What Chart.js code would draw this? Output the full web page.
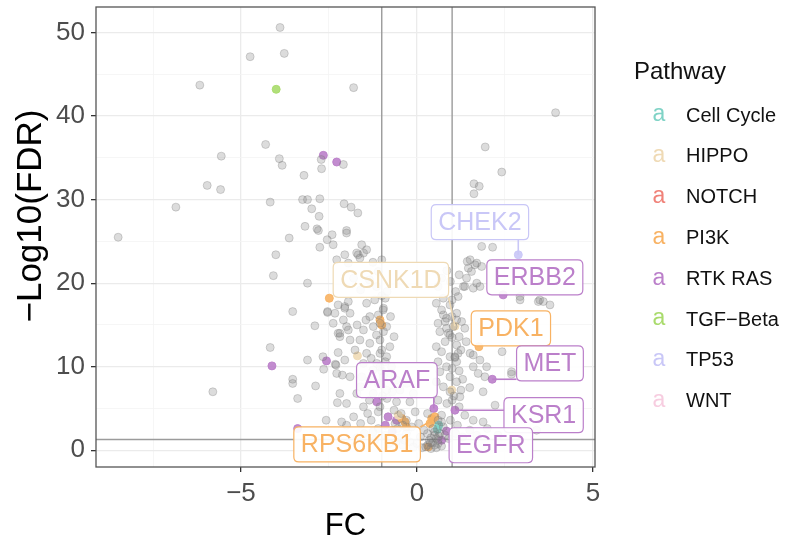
<!DOCTYPE html>
<html>
<head>
<meta charset="utf-8">
<script src="https://cdn.jsdelivr.net/npm/chart.js@4.4.1/dist/chart.umd.min.js"></script>
<style>
  body { margin: 0; background: #fff; }
  #wrap { width: 787px; height: 548px; position: relative; }
</style>
</head>
<body>
<div id="wrap"><canvas id="volcano"></canvas></div>
<script>
// axes
const xTicks = [-7.5, -5, -2.5, 0, 2.5, 5];
const yTicks = [0, 5, 10, 15, 20, 25, 30, 35, 40, 45, 50];
const xLimits = [-9.12, 5.06];
const yLimits = [-2.0, 53.05];
const fdrCutoff = 1.3;
const fcCutoffs = [-1, 1];

// genes without pathway (grey)
const greyPoints = [
  [-3.89,50.6],[-4.74,47.1],[-3.77,47.5],[-6.17,43.7],[-1.80,43.4],[3.94,40.4],
  [-4.30,36.6],[-5.56,35.2],[-3.91,34.9],[-3.83,34.1],[-2.72,34.8],[-2.71,33.7],[-2.09,34.2],
  [-3.21,32.9],[-5.96,31.7],[-5.58,31.2],[-6.85,29.1],[-4.17,29.7],[-3.25,30.0],[-3.11,30.0],
  [-2.76,30.1],[-2.99,28.9],[-2.78,28.0],[-3.18,26.8],[-2.84,26.5],[-2.80,26.3],
  [-2.07,29.5],[-1.87,29.1],[-1.68,28.4],[-2.0,26.3],[-2.0,26.0],
  [1.94,36.3],[2.41,33.3],[1.62,31.9],[1.77,31.6],[1.62,30.7],
  [-8.49,25.5],[-3.63,25.4],[-2.41,25.8],[-2.55,25.2],[-2.38,24.6],[-2.76,24.3],
  [-4.01,23.4],[-2.05,23.4],[-4.08,20.9],[-3.11,20.0],
  [-2.54,16.6],[-2.54,16.5],[-3.53,16.6],[-2.90,14.9],[-2.24,14.0],[-4.17,12.3],[-3.11,10.8],
  [-2.67,11.2],[-2.65,9.7],[-2.32,10.3],[-3.53,8.5],[-3.53,8.0],[-2.88,7.7],[-5.80,7.0],
  [-3.39,6.2],[-2.26,5.7],[-2.58,3.6],
  [-2.05,17.2],[-1.95,17.8],[-2.0,14.8],[-2.19,14.0],[-1.95,14.4],[-2.30,10.2],[-2.24,11.7],
  [-2.05,10.8],[-2.12,9.0],[-2.14,3.4],[-2.0,3.0],
  [-1.57,24.6],[-1.43,24.0],[-1.52,23.6],[-1.67,23.4],[-1.62,23.0],[-1.71,23.6],[-2.28,22.8],[-1.95,22.4],
  [-1.25,22.5],[-1.0,22.8],[-1.1,21.4],[-1.0,18.5],[-0.95,17.0],
  [-2.24,17.4],[-2.05,17.0],[-1.90,16.4],[-2.33,16.4],[-2.09,15.6],[-2.38,15.2],
  [-1.43,17.6],[-1.34,16.0],[-0.96,16.8],[-1.05,15.2],[-1.24,14.8],[-1.52,14.4],[-0.86,14.8],
  [-2.19,13.6],[-1.90,13.2],[-1.62,13.2],[-1.34,12.8],[-1.05,13.2],[-0.77,12.4],[-1.76,12.0],
  [-1.43,11.6],[-1.05,11.6],[-0.86,11.2],[-1.52,10.4],[-1.14,10.4],[-0.72,10.0],[-1.0,12.0],[-1.0,9.5],
  [-2.28,9.2],[-1.90,8.8],[-1.57,8.8],[-1.34,8.4],[-0.96,8.8],[-0.58,8.4],[-0.29,8.0],
  [-2.19,6.8],[-1.71,6.8],[-1.24,6.8],[-0.86,7.2],[-0.48,7.2],[-0.10,6.8],[-1.02,7.8],[-0.98,6.5],
  [-2.0,5.6],[-1.52,5.2],[-1.05,5.2],[-0.58,5.8],[-0.20,5.8],
  [-1.15,19.6],[-1.35,20.4],[-0.85,19.0],[-1.6,19.2],[-1.8,20.6],[-1.2,18.0],[-0.9,18.2],
  [-1.1,16.2],[-0.75,16.0],[-1.45,15.6],[-1.7,15.0],[-0.95,14.2],[-1.15,13.8],[-0.65,13.6],
  [-1.3,11.0],[-0.9,10.6],[-1.05,10.0],[-1.25,9.6],[-0.75,9.2],[-1.1,8.0],[-0.85,6.2],
  [-1.35,6.0],[-1.6,7.6],[-0.7,7.0],[-1.1,4.6],[-1.4,4.4],[-0.65,4.8],[-0.4,3.0],[-1.25,2.2],[-0.55,2.6],
  [-1.8,4.0],[-1.6,3.2],[-1.3,3.6],[-1.1,2.6],[-0.9,1.8],[-0.7,2.4],[-0.5,1.5],[-0.3,2.0],
  [-0.2,1.0],[0.0,0.8],[0.1,1.6],[0.2,2.4],[0.3,0.6],[0.35,1.2],[0.45,0.9],[0.5,1.8],[0.6,1.2],
  [0.7,0.5],[0.55,0.3],[0.4,0.2],[0.25,0.4],[-0.1,0.4],[-0.4,0.6],[-0.6,1.0],[-0.8,0.8],
  [-1.2,1.2],[-1.5,2.0],[-1.7,1.5],[0.65,2.0],[0.75,2.8],[0.9,1.4],[1.1,2.0],[1.3,1.6],
  [1.5,2.4],[1.7,1.8],[2.0,2.6],[2.3,1.8],[0.4,1.5],[0.5,2.2],[0.6,0.8],
  [-0.45,4.4],[-0.3,3.6],[-0.15,2.8],[0.05,3.2],[0.3,2.0],[0.45,2.6],[0.55,1.4],[0.38,0.9],
  [-0.62,3.2],[-0.35,1.2],[0.15,0.3],[0.5,0.6],[0.62,1.7],[0.7,3.4],[0.3,4.4],[-0.05,4.6],
  [1.84,24.4],[2.15,24.3],[1.51,22.8],[1.46,21.8],[1.65,22.2],[1.43,22.6],[1.70,22.4],[1.55,21.4],
  [1.84,22.0],[1.41,20.6],[1.60,19.4],[1.32,19.6],[1.36,19.6],[1.17,18.4],[1.70,20.0],[1.79,19.6],
  [0.85,21.5],[1.2,21.0],[0.95,20.2],[1.1,19.0],
  [2.93,18.4],[3.49,18.0],[2.93,18.0],[3.45,17.8],[3.59,17.8],[3.78,17.4],
  [0.75,16.2],[0.99,16.0],[1.13,15.6],[0.80,15.4],[0.84,14.6],[0.89,14.0],[1.27,15.4],[1.36,14.6],
  [0.75,18.2],[0.94,17.4],[0.70,16.8],[1.13,16.4],[0.84,15.8],[1.03,14.8],[0.65,14.2],[0.94,13.8],
  [0.80,13.0],[1.13,12.6],[0.70,11.8],[0.94,11.2],[1.13,10.6],[0.84,10.0],[0.65,9.4],[0.94,8.8],
  [1.13,8.2],[0.75,7.6],[0.94,7.0],[1.22,6.4],
  [0.6,19.6],[0.7,20.6],[0.55,17.6],[1.0,18.0],[0.6,15.2],[1.2,13.6],[0.55,12.4],[1.25,12.0],
  [0.6,10.6],[1.0,9.8],[0.55,8.2],[1.25,7.2],[0.6,6.0],[0.85,5.6],[1.2,5.2],[0.7,4.2],
  [0.95,3.6],[1.15,3.0],[0.6,3.6],[0.8,1.8],
  [1.17,11.6],[1.08,11.2],[1.08,11.1],[1.51,11.6],[1.60,10.0],[1.79,10.8],[1.98,10.0],[1.74,9.2],
  [1.93,8.8],[2.42,11.8],[2.69,9.4],[2.69,9.1],[1.88,7.0],[2.22,5.4],[1.60,11.4],
  [1.36,4.2],[1.60,3.6],[1.88,3.4],[3.40,2.4],[1.05,6.5],[1.0,6.0],[1.5,7.5],[1.3,8.5],
  [1.2,9.5],[1.4,13.0],[1.0,13.5]
];

// genes by pathway
const cellCycle = [[0.58,2.5],[0.62,3.0]];
const hippo = [[1.08,14.85],[-1.69,11.3],[-0.53,4.2],[0.99,7.2]];
const notch = [];
const pi3k = [[-2.49,18.2],[-1.05,15.6],[-1.0,15.0],[-0.43,3.8],[-0.34,3.4],[-0.3,2.8],
  [0.32,0.4],[0.42,3.8],[0.51,4.0],[0.37,3.2],[1.76,12.4],[0.45,3.6]];
const rtkRas = [[-2.66,35.3],[-2.28,34.5],[-4.12,10.1],[-2.57,10.7],[-3.39,2.6],[-1.14,5.8],
  [-0.82,4.0],[-0.58,3.6],[-0.9,3.0],[-0.7,2.2],[2.45,18.6],[2.14,8.5],[0.48,5.0],[1.08,4.8],
  [0.84,2.3],[0.7,1.2]];
const tgfBeta = [[-4.0,43.2]];
const tp53 = [[2.88,23.4]];
const wnt = [];

const pathwayNames = ['Cell Cycle', 'HIPPO', 'NOTCH', 'PI3K', 'RTK RAS', 'TGF\u2212Beta', 'TP53', 'WNT'];
const pathwayPoints = [cellCycle, hippo, notch, pi3k, rtkRas, tgfBeta, tp53, wnt];
const pathwayColors = ['#7fd3c6', '#efdab5', '#f08279', '#f8b263', '#bb7fca', '#a9db6c', '#c9c7f7', '#f7cde0'];

// labelled genes
const labelGenes = ['CHEK2', 'CSNK1D', 'ERBB2', 'PDK1', 'MET', 'ARAF', 'KSR1', 'RPS6KB1', 'EGFR'];
const labelPathway = [6, 1, 4, 3, 4, 4, 4, 3, 4];
const labelFC = [2.88, 1.08, 2.45, 1.76, 2.14, 0.48, 1.08, 0.45, 0.84];
const labelFDR = [23.4, 14.85, 18.6, 12.4, 8.5, 5.0, 4.8, 3.6, 2.3];
const labelBoxFC = [1.79, -0.74, 3.35, 2.67, 3.78, -0.57, 3.6, -1.70, 2.1];
const labelBoxFDR = [27.3, 20.4, 20.7, 14.6, 10.4, 8.4, 4.2, 0.7, 0.6];

const FONT = '"Liberation Sans", Arial, Helvetica, sans-serif';

function toXY(arr) {
    return arr.map(p => ({ x: p[0], y: p[1] }));
}

function hexA(hex, a) {
    const n = parseInt(hex.slice(1), 16);
    return `rgba(${(n >> 16) & 255}, ${(n >> 8) & 255}, ${n & 255}, ${a})`;
}

function roundRect(ctx, x, y, w, h, r) {
    ctx.beginPath();
    ctx.moveTo(x + r, y);
    ctx.lineTo(x + w - r, y);
    ctx.quadraticCurveTo(x + w, y, x + w, y + r);
    ctx.lineTo(x + w, y + h - r);
    ctx.quadraticCurveTo(x + w, y + h, x + w - r, y + h);
    ctx.lineTo(x + r, y + h);
    ctx.quadraticCurveTo(x, y + h, x, y + h - r);
    ctx.lineTo(x, y + r);
    ctx.quadraticCurveTo(x, y, x + r, y);
    ctx.closePath();
}

// cutoff lines under the points
const cutoffLines = {
    id: 'cutoffLines',
    beforeDatasetsDraw(chart) {
        const { ctx, chartArea: a, scales: { x, y } } = chart;
        ctx.save();
        ctx.strokeStyle = '#9b9b9b';
        ctx.lineWidth = 1.4;
        ctx.beginPath();
        fcCutoffs.forEach(v => {
            const px = x.getPixelForValue(v);
            ctx.moveTo(px, a.top);
            ctx.lineTo(px, a.bottom);
        });
        const py = y.getPixelForValue(fdrCutoff);
        ctx.moveTo(a.left, py);
        ctx.lineTo(a.right, py);
        ctx.stroke();
        ctx.restore();
    }
};

// gene labels, panel border, y title and legend
const decorations = {
    id: 'decorations',
    afterDatasetsDraw(chart) {
        const { ctx, chartArea: a, scales: { x, y } } = chart;
        ctx.save();
        ctx.beginPath();
        ctx.rect(a.left, a.top, a.right - a.left, a.bottom - a.top);
        ctx.clip();
        ctx.font = `25px ${FONT}`;
        ctx.textAlign = 'center';
        ctx.textBaseline = 'middle';
        labelGenes.forEach((gene, i) => {
            const col = pathwayColors[labelPathway[i]];
            const px = x.getPixelForValue(labelFC[i]);
            const py = y.getPixelForValue(labelFDR[i]);
            const cx = x.getPixelForValue(labelBoxFC[i]);
            const cy = y.getPixelForValue(labelBoxFDR[i]);
            const w = ctx.measureText(gene).width + 14;
            const h = 35;
            const left = cx - w / 2, top = cy - h / 2;
            const ex = Math.max(left, Math.min(px, left + w));
            const ey = Math.max(top, Math.min(py, top + h));
            if (Math.hypot(px - ex, py - ey) > 7) {
                ctx.strokeStyle = col;
                ctx.lineWidth = 1.6;
                ctx.beginPath();
                ctx.moveTo(px, py);
                ctx.lineTo(ex, ey);
                ctx.stroke();
            }
            roundRect(ctx, left, top, w, h, 5);
            ctx.fillStyle = 'rgba(255,255,255,0.92)';
            ctx.fill();
            ctx.strokeStyle = col;
            ctx.lineWidth = 1.2;
            ctx.stroke();
            ctx.fillStyle = col;
            ctx.fillText(gene, cx, cy + 1);
        });
        ctx.restore();

        // panel border
        ctx.save();
        ctx.strokeStyle = '#555555';
        ctx.lineWidth = 1.3;
        ctx.strokeRect(a.left, a.top, a.right - a.left, a.bottom - a.top);

        // y axis title
        ctx.save();
        ctx.translate(31, 216);
        ctx.rotate(-Math.PI / 2);
        ctx.textAlign = 'center';
        ctx.textBaseline = 'middle';
        ctx.fillStyle = '#000';
        ctx.font = `35px ${FONT}`;
        ctx.fillText('\u2212Log10(FDR)', 0, 0);
        ctx.restore();

        // legend
        ctx.textBaseline = 'middle';
        ctx.textAlign = 'left';
        ctx.fillStyle = '#111';
        ctx.font = `24px ${FONT}`;
        ctx.fillText('Pathway', 634, 72);
        pathwayNames.forEach((name, i) => {
            const ly = 116 + i * 40.8;
            ctx.textAlign = 'center';
            ctx.fillStyle = pathwayColors[i];
            ctx.font = `23px ${FONT}`;
            ctx.fillText('a', 659, ly - 1);
            ctx.textAlign = 'left';
            ctx.fillStyle = '#111';
            ctx.font = `20px ${FONT}`;
            ctx.fillText(name, 686, ly);
        });
        ctx.restore();
    }
};

const datasets = [{
    data: toXY(greyPoints),
    backgroundColor: 'rgba(128,128,128,0.28)',
    borderColor: 'rgba(110,110,110,0.28)',
    borderWidth: 1,
    pointRadius: 4
}];
pathwayPoints.forEach((pts, i) => {
    datasets.push({
        data: toXY(pts),
        backgroundColor: hexA(pathwayColors[i], 0.9),
        borderColor: hexA(pathwayColors[i], 0.9),
        borderWidth: 1,
        pointRadius: 4
    });
});

function isMajor(v, step) {
    return Math.abs(v / step - Math.round(v / step)) < 1e-6;
}

function fmt(v) {
    return v < 0 ? '\u2212' + Math.abs(v) : String(v);
}

new Chart(document.getElementById('volcano'), {
    type: 'scatter',
    data: { datasets: datasets },
    options: {
        responsive: true,
        maintainAspectRatio: false,
        animation: false,
        events: [],
        layout: { padding: { top: 7, right: 192, left: 0, bottom: 0 } },
        plugins: { legend: { display: false }, tooltip: { enabled: false } },
        scales: {
            x: {
                type: 'linear',
                min: xLimits[0],
                max: xLimits[1],
                afterBuildTicks: axis => { axis.ticks = xTicks.map(v => ({ value: v })); },
                afterFit: axis => {
                    axis.height = 81;
                    axis.paddingLeft = 0;
                    axis.paddingRight = 0;
                },
                border: { display: false },
                grid: {
                    color: c => isMajor(c.tick.value, 5) ? '#ebebeb' : '#f4f4f4',
                    lineWidth: c => isMajor(c.tick.value, 5) ? 1.3 : 0.8,
                    tickColor: c => isMajor(c.tick.value, 5) ? '#333' : 'rgba(0,0,0,0)',
                    tickLength: 5
                },
                ticks: {
                    autoSkip: false,
                    maxRotation: 0,
                    padding: 6,
                    color: '#4d4d4d',
                    font: { family: FONT, size: 26 },
                    callback: v => isMajor(v, 5) ? fmt(v) : ''
                },
                title: {
                    display: true,
                    text: 'FC',
                    color: '#000',
                    font: { family: FONT, size: 31 },
                    padding: { top: 0, bottom: 3 }
                }
            },
            y: {
                type: 'linear',
                min: yLimits[0],
                max: yLimits[1],
                afterBuildTicks: axis => { axis.ticks = yTicks.map(v => ({ value: v })); },
                afterFit: axis => {
                    axis.width = 96;
                    axis.paddingTop = 0;
                    axis.paddingBottom = 0;
                },
                border: { display: false },
                grid: {
                    color: c => isMajor(c.tick.value, 10) ? '#ebebeb' : '#f4f4f4',
                    lineWidth: c => isMajor(c.tick.value, 10) ? 1.3 : 0.8,
                    tickColor: c => isMajor(c.tick.value, 10) ? '#333' : 'rgba(0,0,0,0)',
                    tickLength: 5
                },
                ticks: {
                    autoSkip: false,
                    padding: 6,
                    color: '#4d4d4d',
                    font: { family: FONT, size: 26 },
                    callback: v => isMajor(v, 10) ? fmt(v) : ''
                }
            }
        }
    },
    plugins: [cutoffLines, decorations]
});
</script>
</body>
</html>
